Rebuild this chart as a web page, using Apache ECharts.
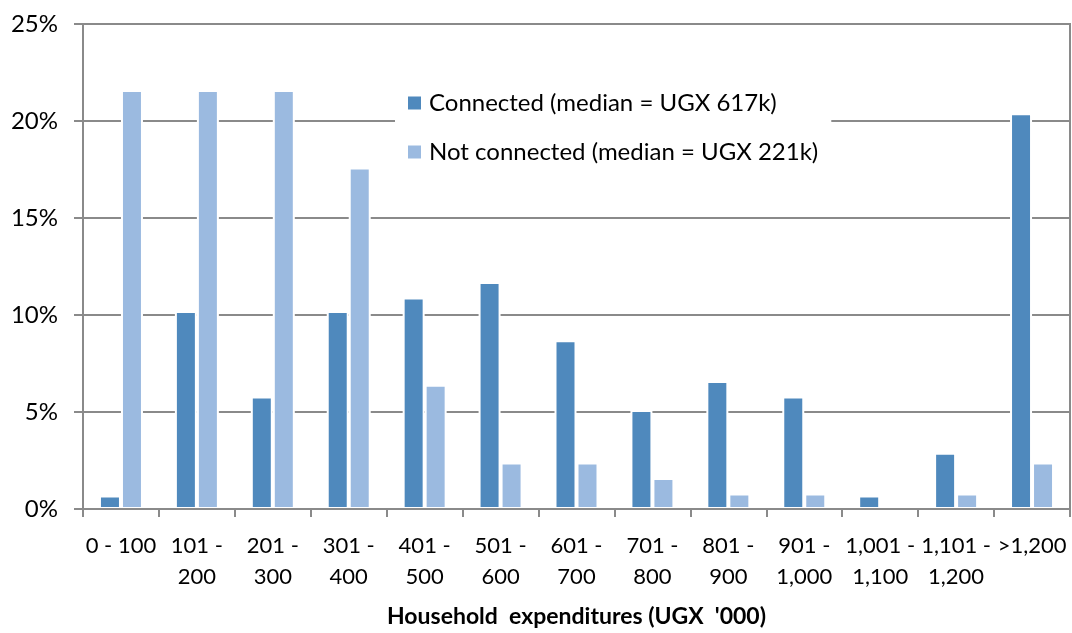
<!DOCTYPE html>
<html>
<head>
<meta charset="utf-8">
<script src="https://cdn.jsdelivr.net/npm/echarts@6/dist/echarts.min.js"></script>
<style>
html,body{margin:0;padding:0;background:#fff;}
#chart{width:1072px;height:633px;}
</style>
</head>
<body>
<div id="chart"></div>
<script>
var categories = ['0 - 100', '101 -\n200', '201 -\n300', '301 -\n400', '401 -\n500', '501 -\n600', '601 -\n700', '701 -\n800', '801 -\n900', '901 -\n1,000', '1,001 -\n1,100', '1,101 -\n1,200', '>1,200'];
var connected = [0.7, 10.2, 5.8, 10.2, 10.9, 11.7, 8.7, 5.1, 6.6, 5.8, 0.7, 2.9, 20.4];
var notConnected = [21.6, 21.6, 21.6, 17.6, 6.4, 2.4, 2.4, 1.6, 0.8, 0.8, 0, 0.8, 2.4];
var seriesNames = ['Connected (median = UGX 617k)', 'Not connected (median = UGX 221k)'];
var xAxisTitle = "Household  expenditures (UGX  '000)";

var FONT = 'Lato';
var GRAY = '#8a8a8a';
var chart = echarts.init(document.getElementById('chart'), null, {renderer: 'canvas'});
chart.setOption({
  animation: false,
  backgroundColor: '#fff',
  textStyle: {fontFamily: FONT},
  grid: {left: 83, right: 2, top: 24, bottom: 121, show: true, borderColor: GRAY, borderWidth: 2, backgroundColor: 'transparent'},
  legend: {
    orient: 'vertical',
    left: 395,
    top: 83,
    padding: [8, 13, 8, 13],
    backgroundColor: '#fff',
    itemWidth: 13,
    itemHeight: 13,
    itemGap: 25,
    icon: 'rect',
    itemStyle: {borderWidth: 0},
    textStyle: {fontFamily: FONT, fontSize: 24, color: '#000', padding: [0, 0, 0, 3]},
    data: seriesNames
  },
  xAxis: {
    type: 'category',
    data: categories,
    z: 5,
    axisLine: {lineStyle: {color: GRAY, width: 2}},
    axisTick: {show: true, length: 8, lineStyle: {color: GRAY, width: 2}},
    axisLabel: {interval: 0, color: '#000', fontFamily: FONT, fontSize: 22, lineHeight: 31, margin: 21},
    name: xAxisTitle,
    nameLocation: 'middle',
    nameGap: 96,
    nameTextStyle: {fontFamily: FONT, fontSize: 23, fontWeight: 'bold', color: '#000'}
  },
  yAxis: {
    type: 'value',
    min: 0,
    max: 25,
    interval: 5,
    axisLine: {show: true, lineStyle: {color: GRAY, width: 2}},
    axisTick: {show: true, length: 9, lineStyle: {color: GRAY, width: 2}},
    axisLabel: {formatter: '{value}%', color: '#000', fontFamily: FONT, fontSize: 24, margin: 25},
    splitLine: {show: true, lineStyle: {color: GRAY, width: 2}}
  },
  series: [
    {
      name: seriesNames[0],
      type: 'bar',
      data: connected,
      barWidth: 22,
      barGap: '0%',
      itemStyle: {color: '#4F89BD', borderColor: '#fff', borderWidth: 2}
    },
    {
      name: seriesNames[1],
      type: 'bar',
      data: notConnected,
      barWidth: 22,
      itemStyle: {color: '#9BBAE0', borderColor: '#fff', borderWidth: 2}
    }
  ]
});
</script>
</body>
</html>
